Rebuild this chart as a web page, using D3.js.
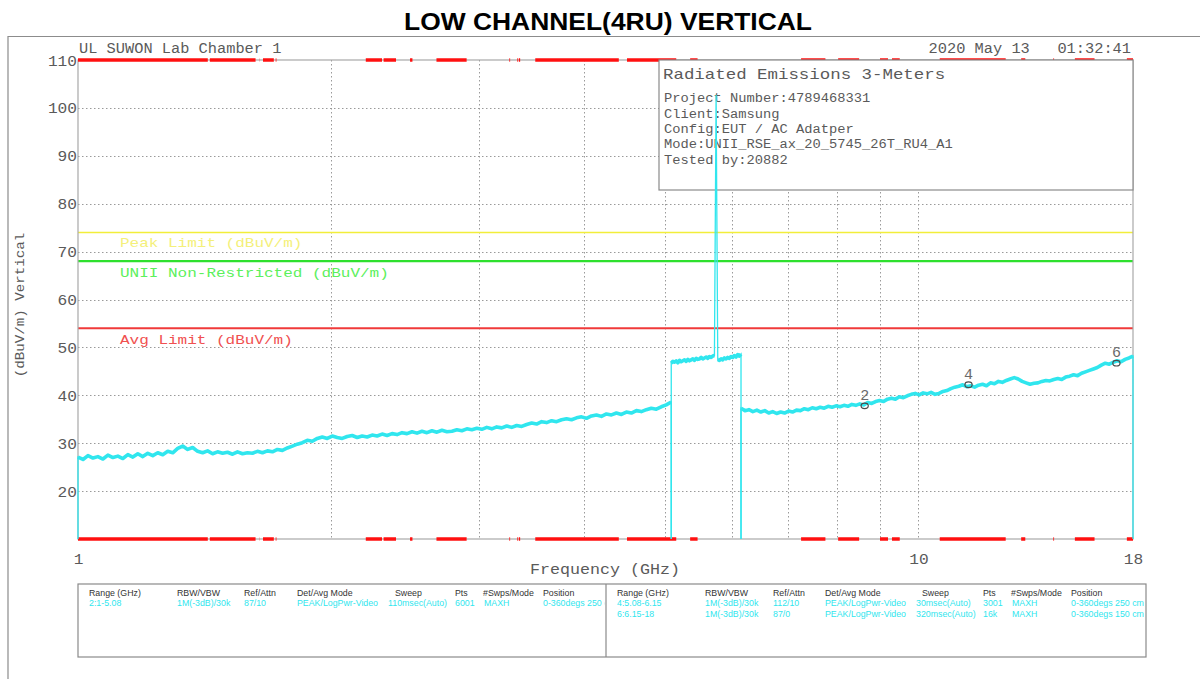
<!DOCTYPE html>
<html>
<head>
<meta charset="utf-8">
<script src="https://cdn.jsdelivr.net/npm/d3@7"></script>
<style>
  body { margin: 0; background: #fff; }
  svg { display: block; }
  text { white-space: pre; }
</style>
</head>
<body>
<svg id="chart" width="1200" height="679"></svg>
<script>
// ---- chart text ----
const chartTitle = "LOW CHANNEL(4RU) VERTICAL";
const labHeader = "UL SUWON Lab Chamber 1";
const dateHeader = "2020 May 13   01:32:41";
const yAxisTitle = "(dBuV/m) Vertical";
const xAxisTitle = "Frequency (GHz)";

// ---- axes ----
const yTickValues = [20, 30, 40, 50, 60, 70, 80, 90, 100, 110];
const xGridValues = [2, 3, 4, 5, 6, 7, 8, 9, 10];
const xTickLabels = [1, 10, 18];

// ---- limit lines (dBuV/m) ----
const limitNames = ["Peak Limit (dBuV/m)", "UNII Non-Restricted (dBuV/m)", "Avg Limit (dBuV/m)"];
const limitLevels = [74, 68, 54];
const limitColors = ["#f2ee3a", "#2ee02e", "#f03a3a"];
const limitTextColors = ["#f4f07a", "#5cf05c", "#f05050"];

// ---- restricted bands (GHz), marked along top and bottom edges ----
const bandStarts = [1.0, 1.435, 1.6455, 1.66, 1.7188, 2.2, 2.31, 2.4835, 2.67, 3.26, 3.332, 3.3458, 3.5, 4.5, 5.35, 7.25, 8.025, 9.0, 9.3, 10.6, 13.25, 14.47, 15.35, 17.7];
const bandStops  = [1.427, 1.6265, 1.6465, 1.71, 1.7222, 2.3, 2.39, 2.5, 2.9, 3.267, 3.339, 3.358, 4.4, 5.15, 5.46, 7.75, 8.5, 9.2, 9.5, 12.7, 13.4, 14.5, 16.2, 18.0];

// ---- sweep ranges (GHz); samples are log-spaced from start to stop ----
const sweepStarts = [1.0, 5.08, 6.15];
const sweepStops  = [5.08, 6.15, 18.0];

// range 2: 1 - 5.08 GHz
const sweep1 = [
  27.1, 26.6, 27.4, 26.9, 27.2, 26.7, 27.5, 27.0, 27.3, 26.8,
  27.6, 27.1, 27.8, 27.2, 27.9, 27.4, 28.0, 27.6, 28.3, 28.0,
  28.9, 29.4, 28.7, 29.1, 28.3, 28.0, 28.4, 27.8, 28.2, 27.9,
  28.1, 27.7, 28.2, 27.8, 28.0, 27.9, 28.3, 28.0, 28.4, 28.2,
  28.7, 28.5, 29.0, 29.4, 29.8, 30.1, 30.6, 30.4, 31.0, 31.3,
  31.0, 31.5, 31.2, 31.0, 31.4, 31.6, 31.2, 31.5, 31.3, 31.7,
  31.5, 31.9, 31.6, 32.0, 31.8, 32.2, 32.0, 32.4, 32.1, 32.5,
  32.2, 32.6, 32.3, 32.7, 32.4, 32.5, 32.8, 32.6, 33.0, 32.8,
  33.1, 32.9, 33.3, 33.0, 33.4, 33.2, 33.6, 33.3, 33.7, 33.5,
  33.9, 34.2, 34.0, 34.5, 34.3, 34.7, 34.5, 34.9, 35.1, 34.9,
  35.3, 35.5, 35.2, 35.7, 35.9, 35.6, 36.1, 35.9, 36.3, 36.0,
  36.5, 36.3, 36.8, 36.6, 37.0, 37.3, 37.1, 37.6, 38.0, 38.6
];
// range 4: 5.08 - 6.15 GHz (carrier at 5.745 GHz)
const sweep2 = [
  46.7, 47.1, 46.9, 47.2, 46.8, 47.3, 47.0, 47.2, 47.4, 47.1,
  47.5, 47.2, 47.4, 47.6, 47.3, 47.7, 47.5, 47.6, 47.9, 47.6,
  47.8, 48.0, 47.7, 48.1, 47.9, 48.2, 48.3, 102.7, 47.5, 47.3,
  47.6, 47.4, 47.8, 47.6, 47.9, 47.7, 48.1, 47.9, 48.3, 48.0,
  48.5, 48.2, 48.6
];
// range 6: 6.15 - 18 GHz
const sweep3 = [
  37.3, 36.8, 37.0, 36.6, 36.9, 36.5, 36.8, 36.3, 36.6, 36.2,
  36.5, 36.3, 36.7, 36.5, 36.9, 36.8, 37.2, 37.0, 37.4, 37.2,
  37.5, 37.3, 37.7, 37.5, 37.8, 37.6, 37.9, 37.7, 38.1, 37.9,
  38.2, 38.0, 38.5, 38.3, 38.7, 38.9, 38.7, 39.2, 39.4, 39.2,
  39.7, 39.5, 39.9, 40.2, 40.4, 40.1, 40.5, 40.3, 40.6, 40.2,
  40.4, 40.8, 41.0, 41.4, 41.7, 41.9, 42.2, 41.8, 42.0, 41.7,
  42.1, 42.3, 42.0, 42.6, 42.4, 42.9, 42.7, 43.1, 43.4, 43.7,
  43.4, 42.9, 42.6, 42.3, 42.5, 42.6, 42.9, 43.1, 43.0, 43.3,
  43.5, 43.3, 43.8, 44.0, 44.3, 44.1, 44.6, 44.9, 45.2, 45.5,
  45.8, 46.3, 46.7, 46.5, 46.9, 47.2, 47.0, 47.5, 47.8, 48.2
];
const sweepValues = [sweep1, sweep2, sweep3];

// ---- markers ----
const markerIds = ["2", "4", "6"];
const markerFreqs = [8.63, 11.47, 17.2];
const markerLevels = [37.8, 42.2, 46.7];

// ---- info box ----
const infoHeading = "Radiated Emissions 3-Meters";
const infoLines = [
  "Project Number:4789468331",
  "Client:Samsung",
  "Config:EUT / AC Adatper",
  "Mode:UNII_RSE_ax_20_5745_26T_RU4_A1",
  "Tested by:20882"
];

// ---- settings table ----
const tableHeaders = ["Range (GHz)", "RBW/VBW", "Ref/Attn", "Det/Avg Mode", "Sweep", "Pts", "#Swps/Mode", "Position"];
const tableLeftRows = [
  ["2:1-5.08", "1M(-3dB)/30k", "87/10", "PEAK/LogPwr-Video", "110msec(Auto)", "6001", "MAXH", "0-360degs 250 cm"]
];
const tableRightRows = [
  ["4:5.08-6.15", "1M(-3dB)/30k", "112/10", "PEAK/LogPwr-Video", "30msec(Auto)", "3001", "MAXH", "0-360degs 250 cm"],
  ["6:6.15-18", "1M(-3dB)/30k", "87/0", "PEAK/LogPwr-Video", "320msec(Auto)", "16k", "MAXH", "0-360degs 150 cm"]
];

// ================= drawing =================
const svg = d3.select("#chart");
const plot = { left: 78, right: 1133, top: 60, bottom: 539 };
const mono = "'Liberation Mono', 'DejaVu Sans Mono', monospace";
const textGray = "#5a5a5a";
const frameGray = "#8c8c8c";
const traceColor = "#30e6ee";

const x = d3.scaleLog().domain([1, 18]).range([plot.left, plot.right]);
const y = d3.scaleLinear().domain([10, 110]).range([plot.bottom, plot.top]);

// fixed-pitch text helper
function pitchText(g, str, px, py, size, pitch, color, anchor) {
  return g.append("text")
    .attr("x", px).attr("y", py)
    .attr("font-family", mono)
    .attr("font-size", size)
    .attr("fill", color)
    .attr("text-anchor", anchor || "start")
    .attr("textLength", str.length * pitch)
    .attr("lengthAdjust", "spacingAndGlyphs")
    .text(str);
}

// title
svg.append("text")
  .attr("x", 608).attr("y", 30)
  .attr("text-anchor", "middle")
  .attr("font-family", "'Liberation Sans', Arial, sans-serif")
  .attr("font-weight", "bold")
  .attr("font-size", 24)
  .attr("textLength", 408)
  .attr("lengthAdjust", "spacingAndGlyphs")
  .attr("fill", "#000")
  .text(chartTitle);

// outer frame (open to the right and bottom)
svg.append("path")
  .attr("d", "M8,679 V36.5 H1200")
  .attr("fill", "none").attr("stroke", frameGray).attr("stroke-width", 1.2);

// header lines
pitchText(svg, labHeader, 79, 53, 14, 9.2, textGray);
pitchText(svg, dateHeader, 1131, 53, 14, 9.2, textGray, "end");

// grid
const grid = svg.append("g").attr("stroke", "#9a9a9a").attr("stroke-width", 1)
  .attr("stroke-dasharray", "1.5,2.5");
grid.selectAll("line.h").data(yTickValues.filter(v => v < 110)).join("line")
  .attr("class", "h")
  .attr("x1", plot.left).attr("x2", plot.right)
  .attr("y1", d => Math.round(y(d)) + 0.5).attr("y2", d => Math.round(y(d)) + 0.5);
grid.selectAll("line.v").data(xGridValues).join("line")
  .attr("class", "v")
  .attr("y1", plot.top).attr("y2", plot.bottom)
  .attr("x1", d => Math.round(x(d)) + 0.5).attr("x2", d => Math.round(x(d)) + 0.5);

// y axis labels
const yAxis = d3.axisLeft(y).tickValues(yTickValues).tickSize(0).tickPadding(0);
const yg = svg.append("g").attr("transform", `translate(${plot.left - 1},0)`).call(yAxis);
yg.select(".domain").remove();
yg.selectAll("text")
  .attr("font-family", mono).attr("font-size", 14).attr("fill", textGray)
  .attr("dy", "0.36em")
  .each(function (d) {
    const s = String(d);
    d3.select(this).attr("textLength", s.length * 9.7).attr("lengthAdjust", "spacingAndGlyphs");
  });

// x axis labels
const xAxis = d3.axisBottom(x).tickValues(xTickLabels).tickFormat(d3.format("d")).tickSize(0).tickPadding(0);
const xg = svg.append("g").attr("transform", `translate(0,${plot.bottom})`).call(xAxis);
xg.select(".domain").remove();
xg.selectAll("text")
  .attr("font-family", mono).attr("font-size", 14).attr("fill", textGray)
  .attr("y", 15)
  .each(function (d) {
    const s = String(d);
    d3.select(this).attr("textLength", s.length * 9.7).attr("lengthAdjust", "spacingAndGlyphs");
  });

// axis titles
pitchText(svg, xAxisTitle, 605, 574, 14, 10.0, textGray, "middle");
svg.append("text")
  .attr("transform", "translate(24,305) rotate(-90)")
  .attr("text-anchor", "middle")
  .attr("font-family", mono).attr("font-size", 12.5).attr("fill", textGray)
  .attr("textLength", yAxisTitle.length * 8.5).attr("lengthAdjust", "spacingAndGlyphs")
  .text(yAxisTitle);

// limit lines
limitLevels.forEach((lv, i) => {
  svg.append("line")
    .attr("x1", plot.left).attr("x2", plot.right)
    .attr("y1", y(lv)).attr("y2", y(lv))
    .attr("stroke", limitColors[i]).attr("stroke-width", i === 0 ? 1.6 : 2.2);
});
const limitLabelY = [247, 277, 344];
limitNames.forEach((n, i) => {
  pitchText(svg, n, 120, limitLabelY[i], 13, 9.6, limitTextColors[i]);
});

// plot frame
svg.append("rect")
  .attr("x", plot.left).attr("y", plot.top)
  .attr("width", plot.right - plot.left).attr("height", plot.bottom - plot.top)
  .attr("fill", "none").attr("stroke", "#a8a8a8").attr("stroke-width", 1.2);

// restricted band marks along top and bottom edges
[plot.top, plot.bottom].forEach(edge => {
  svg.append("g").selectAll("line").data(bandStarts).join("line")
    .attr("x1", d => x(d))
    .attr("x2", (d, i) => x(bandStops[i]))
    .attr("y1", edge).attr("y2", edge)
    .attr("stroke", "#ff1010").attr("stroke-width", 3.5);
});

// info box
const info = svg.append("g");
info.append("rect")
  .attr("x", 659).attr("y", plot.top)
  .attr("width", plot.right - 659).attr("height", 130)
  .attr("fill", "#fff").attr("stroke", "#8a8a8a").attr("stroke-width", 1.2);
pitchText(info, infoHeading, 663, 79, 15, 10.45, textGray);
const infoBase = [102, 118, 133, 148, 164];
infoLines.forEach((l, i) => pitchText(info, l, 664, infoBase[i], 12, 8.25, textGray));

// trace
const clip = svg.append("clipPath").attr("id", "plotClip");
clip.append("rect").attr("x", plot.left - 1).attr("y", plot.top - 1)
  .attr("width", plot.right - plot.left + 2).attr("height", plot.bottom - plot.top + 2);

const line = d3.line().x(d => x(d[0])).y(d => y(d[1]));
// the noise band is drawn heavy; the carrier spike and range edges stay thin
const bandLine = d3.line().x(d => x(d[0])).y(d => y(d[1])).defined(d => d[1] < 90);
const traceG = svg.append("g").attr("clip-path", "url(#plotClip)");
sweepValues.forEach((vals, k) => {
  const f0 = sweepStarts[k], f1 = sweepStops[k], n = vals.length;
  const pts = vals.map((v, i) => [f0 * Math.pow(f1 / f0, i / (n - 1)), v]);
  // each sweep rises from and returns to the bottom of the display
  const path = [[f0, 10]].concat(pts, [[f1, 10]]);
  traceG.append("path")
    .datum(path)
    .attr("d", line)
    .attr("fill", "none")
    .attr("stroke", traceColor)
    .attr("stroke-width", 1.3);
  traceG.append("path")
    .datum(pts)
    .attr("d", bandLine)
    .attr("fill", "none")
    .attr("stroke", traceColor)
    .attr("stroke-width", 3.6)
    .attr("stroke-linejoin", "round");
});

// markers
markerIds.forEach((id, i) => {
  const mx = x(markerFreqs[i]), my = y(markerLevels[i]);
  svg.append("ellipse")
    .attr("cx", mx).attr("cy", my)
    .attr("rx", 3.6).attr("ry", 2.8)
    .attr("fill", "none").attr("stroke", "#4a4a4a").attr("stroke-width", 1.2);
  svg.append("text")
    .attr("x", mx).attr("y", my - 6)
    .attr("text-anchor", "middle")
    .attr("font-family", mono).attr("font-size", 15).attr("fill", "#6a6a6a")
    .text(id);
});

// settings table
const table = svg.append("g");
const tbl = { left: 78, right: 1146, top: 584, bottom: 657, split: 606 };
table.append("rect")
  .attr("x", tbl.left).attr("y", tbl.top)
  .attr("width", tbl.right - tbl.left).attr("height", tbl.bottom - tbl.top)
  .attr("fill", "#fff").attr("stroke", "#8a8a8a").attr("stroke-width", 1.2);
table.append("line")
  .attr("x1", tbl.split).attr("x2", tbl.split).attr("y1", tbl.top).attr("y2", tbl.bottom)
  .attr("stroke", "#8a8a8a").attr("stroke-width", 1.2);

const clipL = svg.append("clipPath").attr("id", "tblLeft");
clipL.append("rect").attr("x", tbl.left).attr("y", tbl.top).attr("width", tbl.split - tbl.left - 1).attr("height", tbl.bottom - tbl.top);
const clipR = svg.append("clipPath").attr("id", "tblRight");
clipR.append("rect").attr("x", tbl.split + 1).attr("y", tbl.top).attr("width", tbl.right - tbl.split - 2).attr("height", tbl.bottom - tbl.top);

const colLeft = [89, 177, 244, 297, 388, 455, 484, 543];
const colRight = [617, 705, 773, 825, 916, 983, 1012, 1071];
const colHeadLeft = [89, 177, 244, 297, 395, 455, 483, 543];
const colHeadRight = [617, 705, 773, 825, 922, 983, 1011, 1071];

function drawTable(clipId, headX, colX, rows) {
  const g = table.append("g").attr("clip-path", `url(#${clipId})`)
    .attr("font-family", "'Liberation Sans', Arial, sans-serif").attr("font-size", 8.8);
  tableHeaders.forEach((h, i) => {
    g.append("text").attr("x", headX[i]).attr("y", 596).attr("fill", "#333").text(h);
  });
  rows.forEach((r, ri) => {
    r.forEach((c, i) => {
      g.append("text").attr("x", colX[i]).attr("y", 606 + ri * 10.5).attr("fill", traceColor).text(c);
    });
  });
}
drawTable("tblLeft", colHeadLeft, colLeft, tableLeftRows);
drawTable("tblRight", colHeadRight, colRight, tableRightRows);
</script>
</body>
</html>
